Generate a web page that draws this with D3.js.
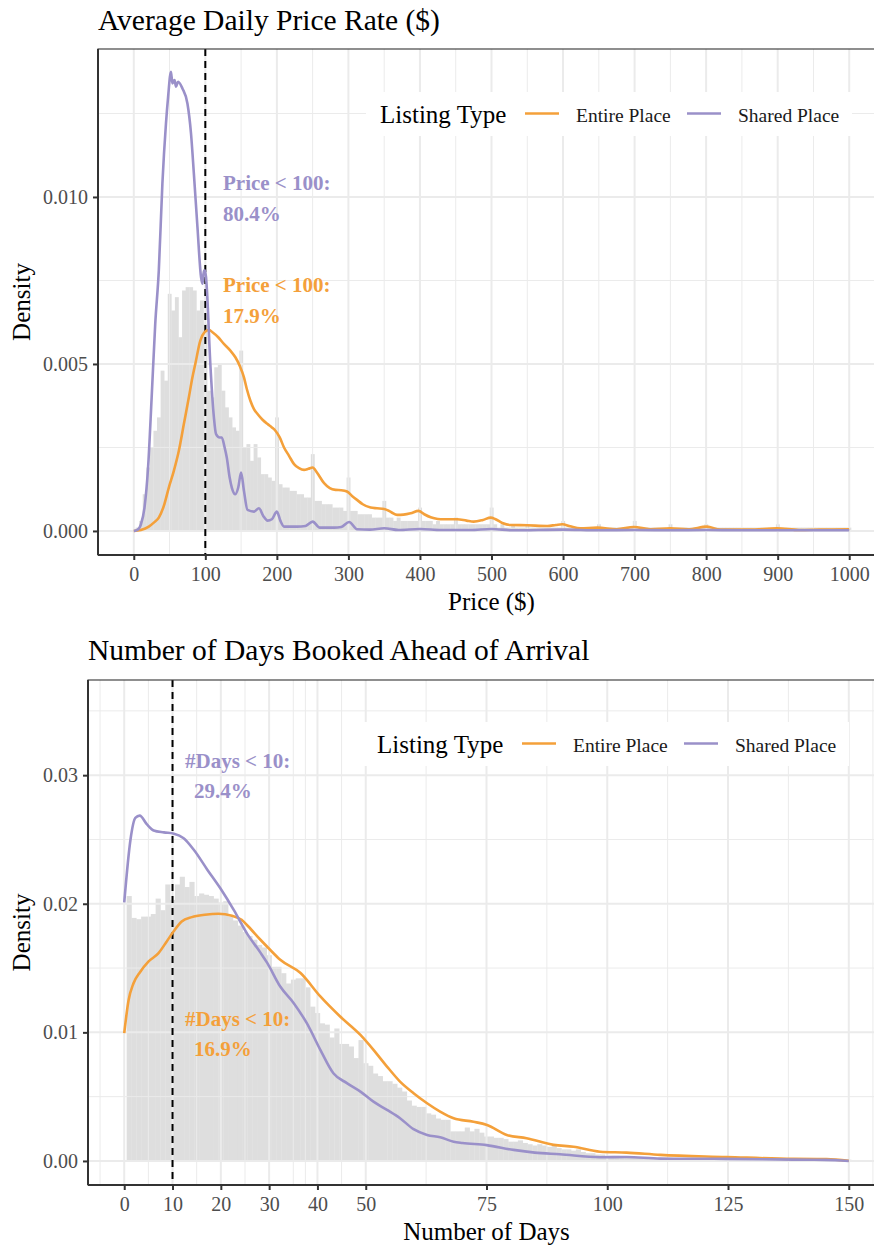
<!DOCTYPE html>
<html>
<head>
<meta charset="utf-8">
<script src="https://cdn.jsdelivr.net/npm/d3@7"></script>
<style>
  body { margin: 0; background: #fff; }
  text { font-family: "Liberation Serif", "Times New Roman", serif; }
</style>
</head>
<body>
<svg id="chart" width="874" height="1245"></svg>
<script>
// ---- data (densities stored in units of 1e-4) ----
const seriesNames = ["Entire Place", "Shared Place"];
const seriesColors = ["#F4A03A", "#9A90C9"];

// price histogram, bins of width 5 centred at 0, 5, ..., 1000
const priceBinWidth = 5;
const priceHist = [
  0, 1, 3, 11, 19, 25, 30, 34, 48, 45, 71, 66, 70, 58, 72, 73, 73, 72, 66, 69, 62,
  42, 40, 49, 50, 42, 37, 34, 31, 30, 54,
  25, 26, 21, 26, 22, 17, 17, 16, 15, 34,
  14, 13, 13, 12, 12, 11, 11, 10, 10, 23,
  9, 9, 8, 8, 8, 7, 7, 7, 6, 16,
  6, 6, 5, 5, 5, 5, 4, 4, 4, 9,
  4, 4, 3, 4, 3, 3, 3, 3, 3, 7,
  3, 3, 3, 2, 3, 2, 2, 2, 2, 4,
  2, 2, 2, 2, 2, 2, 2, 2, 2, 7,
  2, 1, 2, 1, 1, 2, 1, 1, 1, 2,
  1, 1, 1, 1, 1, 1, 1, 1, 1, 3,
  1, 1, 1, 1, 1, 1, 1, 1, 1, 2,
  1, 1, 1, 1, 1, 1, 1, 1, 1, 3,
  1, 1, 1, 1, 1, 1, 1, 1, 1, 2,
  1, 1, 1, 1, 1, 1, 1, 1, 1, 2,
  1, 1, 1, 1, 1, 1, 1, 1, 1, 1,
  1, 1, 1, 1, 1, 1, 1, 1, 1, 2,
  1, 1, 1, 1, 1, 1, 1, 1, 1, 1,
  1, 1, 1, 1, 1, 1, 1, 1, 1, 1
];

const priceEntireX = [0, 10, 21, 28, 35, 42, 49, 56, 63, 70, 77, 82, 86, 93, 99, 105, 110, 118, 126, 135, 142, 148, 154, 158, 163, 168, 173, 180, 187, 193, 198, 204, 210, 217, 224, 231, 238, 244, 250, 256, 266, 274, 282, 290, 298, 305, 312, 320, 331, 340, 350, 360, 368, 377, 387, 398, 406, 415, 425, 433, 452, 465, 475, 488, 499, 505, 515, 526, 550, 578, 590, 599, 610, 624, 648, 675, 699, 722, 750, 775, 801, 820, 860, 899, 930, 960, 1000];
const priceEntireY = [0, 0.3, 1.3, 2.5, 4, 7.5, 13, 18, 24, 32, 40, 46, 50, 57, 59.5, 60.2, 59.5, 58, 56, 54, 52, 49.5, 46, 42.5, 39, 36.5, 35, 33.3, 32, 31, 30, 28, 25, 22.5, 20, 18.8, 18.3, 18.6, 19, 17.5, 14.3, 12.8, 12.3, 12.2, 11.8, 10.5, 9.3, 8, 7, 6.8, 6.6, 5.6, 4.8, 4.9, 5.3, 6, 5, 4.1, 3.6, 3.5, 3.5, 3.1, 2.8, 3.3, 4, 3.6, 2.4, 1.8, 1.7, 1.5, 1.8, 2, 1.4, 0.8, 1, 0.5, 1.2, 0.5, 0.8, 0.5, 1.3, 0.4, 0.4, 0.8, 0.3, 0.4, 0.5];

const priceSharedX = [0, 5, 10, 15, 20, 25, 30, 35, 40, 45, 48, 52, 54, 57, 59, 62, 68, 75, 80, 84, 89, 94, 96, 98, 100, 102, 107, 112, 115, 120, 123, 127, 130, 134, 137, 142, 146, 150, 154, 159, 168, 175, 181, 187, 193, 200, 205, 210, 228, 240, 250, 260, 280, 290, 301, 312, 330, 350, 370, 400, 430, 470, 500, 530, 600, 650, 700, 750, 800, 850, 900, 1000];
const priceSharedY = [0, 0.3, 2, 7, 19, 40, 62, 78, 104, 122, 130, 137.5, 134, 135, 133, 134.5, 132.5, 128, 119, 107, 91, 76, 74, 78, 78, 73, 50, 34, 29, 28, 28, 25, 22, 16, 13, 11, 13, 17.5, 12, 6.3, 5.8, 6.8, 4.5, 3.1, 3.5, 5.8, 3, 1.3, 1.3, 1.5, 2.8, 1, 1, 1.2, 2.7, 0.5, 0.4, 0.8, 0.3, 0.6, 0.3, 0.3, 0.6, 0.2, 0.4, 0.2, 0.3, 0.2, 0.3, 0.2, 0.2, 0.2];

// days histogram, bins of width 1 centred at 1, 2, ..., 150
const daysBinWidth = 1;
const daysHist = [
  206, 189, 188, 190, 190, 192, 204, 195, 215, 203,
  215, 221, 213, 217, 206, 208, 207, 206, 204, 201,
  202, 190, 187, 183, 178, 175, 172, 168, 166, 160,
  151, 151, 146, 138, 141, 142, 142, 135, 120, 115,
  107, 106, 96, 103, 91, 91, 89, 80, 94, 76,
  74, 68, 66, 62, 62, 60, 57, 54, 47, 43,
  42, 42, 37, 36, 33, 32, 32, 23, 23, 23,
  26, 23, 25, 22, 19, 19, 18, 18, 17, 15,
  15, 16, 14, 13, 12, 13, 12, 11, 12, 10,
  9, 9, 8, 9, 7, 6, 6, 5, 5, 4,
  4, 4, 3, 3, 3, 3, 3, 2, 2, 2,
  2, 2, 2, 2, 2, 2, 2, 2, 1, 1,
  1, 1, 1, 1, 1, 1, 1, 1, 1, 1,
  1, 1, 1, 1, 1, 1, 1, 1, 1, 1,
  1, 1, 1, 1, 1, 1, 1, 1, 1, 1
];

const daysEntireX = [0, 0.9, 1.9, 3.3, 5, 7.1, 8.8, 10.2, 11.9, 14, 16.7, 19.5, 22.3, 24.3, 25.7, 28.2, 30, 32.3, 36.5, 40.6, 44.7, 48.9, 51.6, 54.4, 57.1, 59.9, 62.7, 65.4, 68.2, 72.3, 75.1, 79.2, 83.3, 88.9, 93, 98.5, 104, 111, 124.7, 138.5, 145.4, 150];
const daysEntireY = [99.4, 125, 138, 147, 155, 161.6, 170.7, 178.4, 186.2, 189.6, 191.4, 192.2, 190.7, 187.5, 182.3, 172, 165, 156.4, 146.1, 127.9, 112.3, 98, 86.4, 73.4, 61.7, 52.7, 44.9, 38.4, 33.2, 30.5, 28, 20.2, 17.7, 12.5, 11.1, 7.2, 6.5, 4.7, 3.1, 1.6, 1.4, 0.2];

const daysSharedX = [0, 1.3, 2.3, 3.2, 4.75, 6.1, 8.2, 10.3, 12.3, 14.4, 17.2, 19.9, 22.7, 25.4, 28.2, 29.6, 32.3, 35.1, 37.8, 40.6, 43.3, 46.1, 48.9, 51.6, 54.4, 57.1, 59.9, 62.7, 65.4, 68.2, 70, 75, 80.6, 85, 90.2, 98.5, 104, 111, 124.7, 138.5, 145, 150];
const daysSharedY = [201, 250, 266.7, 268.5, 261.5, 257, 255.5, 254.5, 251, 242, 226.5, 212, 195, 177, 162, 154, 135.6, 122.7, 107.1, 86.4, 68.2, 60.5, 53.9, 46.1, 39.7, 33.2, 24.7, 20.2, 18.4, 15, 14, 12.3, 8.6, 6.5, 5.2, 2.9, 3.1, 1.8, 1.6, 1, 0.8, 0];

// axes
const priceTicks = [0, 100, 200, 300, 400, 500, 600, 700, 800, 900, 1000];
const priceMinor = [-50, 50, 150, 250, 350, 450, 550, 650, 750, 850, 950, 1050];
const priceDensTicks = [0, 0.005, 0.010];
const priceDensMinor = [0.0025, 0.0075, 0.0125];
const daysTicks = [0, 10, 20, 30, 40, 50, 75, 100, 125, 150];
const daysMinor = [-5, 5, 15, 25, 35, 37.5, 45, 62.5, 87.5, 112.5, 137.5, 155];
const daysDensTicks = [0, 0.01, 0.02, 0.03];
const daysDensMinor = [0.005, 0.015, 0.025, 0.035];

// annotations
const priceNotes = [["Price < 100:", "80.4%"], ["Price < 100:", "17.9%"]];
const daysNotes = [["#Days < 10:", "29.4%"], ["#Days < 10:", "16.9%"]];

const svg = d3.select("#chart");

function drawPanel(opt) {
  const x = d3.scaleLinear().domain(opt.xDomain).range([opt.left, opt.right]);
  const y = d3.scaleLinear().domain(opt.yDomain).range([opt.bottom, opt.top]);
  const g = svg.append("g");

  g.append("clipPath").attr("id", opt.id + "-clip")
    .append("rect")
    .attr("x", opt.left).attr("y", opt.top)
    .attr("width", opt.right - opt.left).attr("height", opt.bottom - opt.top);

  const inner = g.append("g").attr("clip-path", "url(#" + opt.id + "-clip)");

  // histogram
  inner.append("g").selectAll("rect")
    .data(opt.hist)
    .join("rect")
    .attr("x", (d, i) => x(opt.histStart + i * opt.binWidth - opt.binWidth / 2))
    .attr("width", (d, i) => x(opt.histStart + i * opt.binWidth + opt.binWidth / 2) - x(opt.histStart + i * opt.binWidth - opt.binWidth / 2) + 0.3)
    .attr("y", d => y(d * 1e-4))
    .attr("height", d => y(0) - y(d * 1e-4))
    .attr("fill", "#DEDEDE");

  // grid (sits above the bars, as in the original)
  const grid = inner.append("g").attr("stroke", "#EBEBEB").attr("fill", "none");
  grid.selectAll(".xmin").data(opt.xMinor).join("line")
    .attr("x1", d => x(d)).attr("x2", d => x(d))
    .attr("y1", opt.top).attr("y2", opt.bottom).attr("stroke-width", 1);
  grid.selectAll(".ymin").data(opt.yMinor).join("line")
    .attr("y1", d => y(d)).attr("y2", d => y(d))
    .attr("x1", opt.left).attr("x2", opt.right).attr("stroke-width", 1);
  grid.selectAll(".xmaj").data(opt.xTicks).join("line")
    .attr("x1", d => x(d)).attr("x2", d => x(d))
    .attr("y1", opt.top).attr("y2", opt.bottom).attr("stroke-width", 2);
  grid.selectAll(".ymaj").data(opt.yTicks).join("line")
    .attr("y1", d => y(d)).attr("y2", d => y(d))
    .attr("x1", opt.left).attr("x2", opt.right).attr("stroke-width", 2);

  // dashed reference line
  inner.append("line")
    .attr("x1", x(opt.cut)).attr("x2", x(opt.cut))
    .attr("y1", opt.top).attr("y2", opt.bottom)
    .attr("stroke", "#000").attr("stroke-width", 2)
    .attr("stroke-dasharray", "7,5");

  // density curves
  const line = d3.line()
    .x(d => x(d[0])).y(d => y(d[1] * 1e-4))
    .curve(d3.curveMonotoneX);
  opt.curves.forEach((c, i) => {
    inner.append("path")
      .datum(d3.zip(c[0], c[1]))
      .attr("d", line)
      .attr("fill", "none")
      .attr("stroke", seriesColors[i])
      .attr("stroke-width", 2.6)
      .attr("stroke-linejoin", "round");
  });

  // annotations
  opt.notes.forEach((n, i) => {
    const t = g.append("text")
      .attr("x", opt.noteX).attr("y", opt.noteY[i])
      .attr("fill", seriesColors[1 - i])
      .attr("font-weight", "bold").attr("font-size", 21);
    t.append("tspan").attr("x", opt.noteX).text(n[0]);
    t.append("tspan").attr("x", opt.noteX + opt.noteIndent).attr("dy", opt.noteGap).text(n[1]);
  });

  // legend
  const lg = g.append("g").attr("transform", "translate(" + opt.legend[0] + "," + opt.legend[1] + ")");
  lg.append("rect").attr("x", -14).attr("y", -31).attr("width", 486).attr("height", 44).attr("fill", "#fff");
  lg.append("text").attr("x", 0).attr("y", 0).attr("font-size", 25).attr("fill", "#000").text("Listing Type");
  const keyX = [145, 307];
  seriesNames.forEach((s, i) => {
    lg.append("line")
      .attr("x1", keyX[i]).attr("x2", keyX[i] + 34)
      .attr("y1", -9.5).attr("y2", -9.5)
      .attr("stroke", seriesColors[i]).attr("stroke-width", 2.6);
    lg.append("text").attr("x", keyX[i] + 51).attr("y", -1.5)
      .attr("font-size", 19.5).attr("fill", "#1a1a1a").text(s);
  });

  // border and axis lines
  g.append("rect")
    .attr("x", opt.left).attr("y", opt.top)
    .attr("width", opt.right - opt.left).attr("height", opt.bottom - opt.top)
    .attr("fill", "none").attr("stroke", "#333").attr("stroke-width", 1.1);
  g.append("line").attr("x1", opt.left).attr("x2", opt.right)
    .attr("y1", opt.bottom).attr("y2", opt.bottom)
    .attr("stroke", "#333").attr("stroke-width", 2);
  g.append("line").attr("x1", opt.left).attr("x2", opt.left)
    .attr("y1", opt.top).attr("y2", opt.bottom)
    .attr("stroke", "#333").attr("stroke-width", 2);

  // axes
  const xAxis = d3.axisBottom(x).tickValues(opt.xTicks).tickSize(5).tickPadding(4)
    .tickFormat(d3.format("d"));
  const xg = g.append("g").attr("transform", "translate(0," + opt.bottom + ")").call(xAxis);
  const yAxis = d3.axisLeft(y).tickValues(opt.yTicks).tickSize(5).tickPadding(5)
    .tickFormat(d3.format(opt.yFormat));
  const yg = g.append("g").attr("transform", "translate(" + opt.left + ",0)").call(yAxis);
  [xg, yg].forEach(a => {
    a.select(".domain").remove();
    a.selectAll(".tick line").attr("stroke", "#333").attr("stroke-width", 2);
    a.selectAll(".tick text").attr("fill", "#4D4D4D").attr("font-size", 20)
      .attr("font-family", "Liberation Serif, Times New Roman, serif");
  });
  xg.selectAll(".tick text").attr("dy", "0.85em");

  // titles
  g.append("text").attr("x", opt.titleX).attr("y", opt.titleY)
    .attr("font-size", 29.5).attr("fill", "#000").text(opt.title);
  g.append("text").attr("x", (opt.left + opt.right) / 2).attr("y", opt.bottom + 55)
    .attr("text-anchor", "middle").attr("font-size", 25).attr("fill", "#000").text(opt.xLabel);
  g.append("text")
    .attr("transform", "translate(30," + (opt.top + opt.bottom) / 2 + ") rotate(-90)")
    .attr("text-anchor", "middle").attr("font-size", 25).attr("fill", "#000").text("Density");
}

drawPanel({
  id: "price",
  left: 98, right: 885, top: 49, bottom: 555,
  xDomain: [-50, 1050], yDomain: [-0.00072, 0.01443],
  xTicks: priceTicks, xMinor: priceMinor, yTicks: priceDensTicks, yMinor: priceDensMinor,
  yFormat: ".3f",
  hist: priceHist, histStart: 0, binWidth: priceBinWidth,
  curves: [[priceEntireX, priceEntireY], [priceSharedX, priceSharedY]],
  cut: 100,
  notes: priceNotes, noteX: 223, noteY: [190, 292], noteGap: 31, noteIndent: 0,
  legend: [380, 123],
  title: "Average Daily Price Rate ($)", titleX: 98, titleY: 30,
  xLabel: "Price ($)"
});

drawPanel({
  id: "days",
  left: 88, right: 885, top: 680, bottom: 1185,
  xDomain: [-7.5, 157.5], yDomain: [-0.00187, 0.0374],
  xTicks: daysTicks, xMinor: daysMinor, yTicks: daysDensTicks, yMinor: daysDensMinor,
  yFormat: ".2f",
  hist: daysHist, histStart: 1, binWidth: daysBinWidth,
  curves: [[daysEntireX, daysEntireY], [daysSharedX, daysSharedY]],
  cut: 10,
  notes: daysNotes, noteX: 185, noteY: [768, 1026], noteGap: 30, noteIndent: 9,
  legend: [377, 753],
  title: "Number of Days Booked Ahead of Arrival", titleX: 88, titleY: 660,
  xLabel: "Number of Days"
});
</script>
</body>
</html>
